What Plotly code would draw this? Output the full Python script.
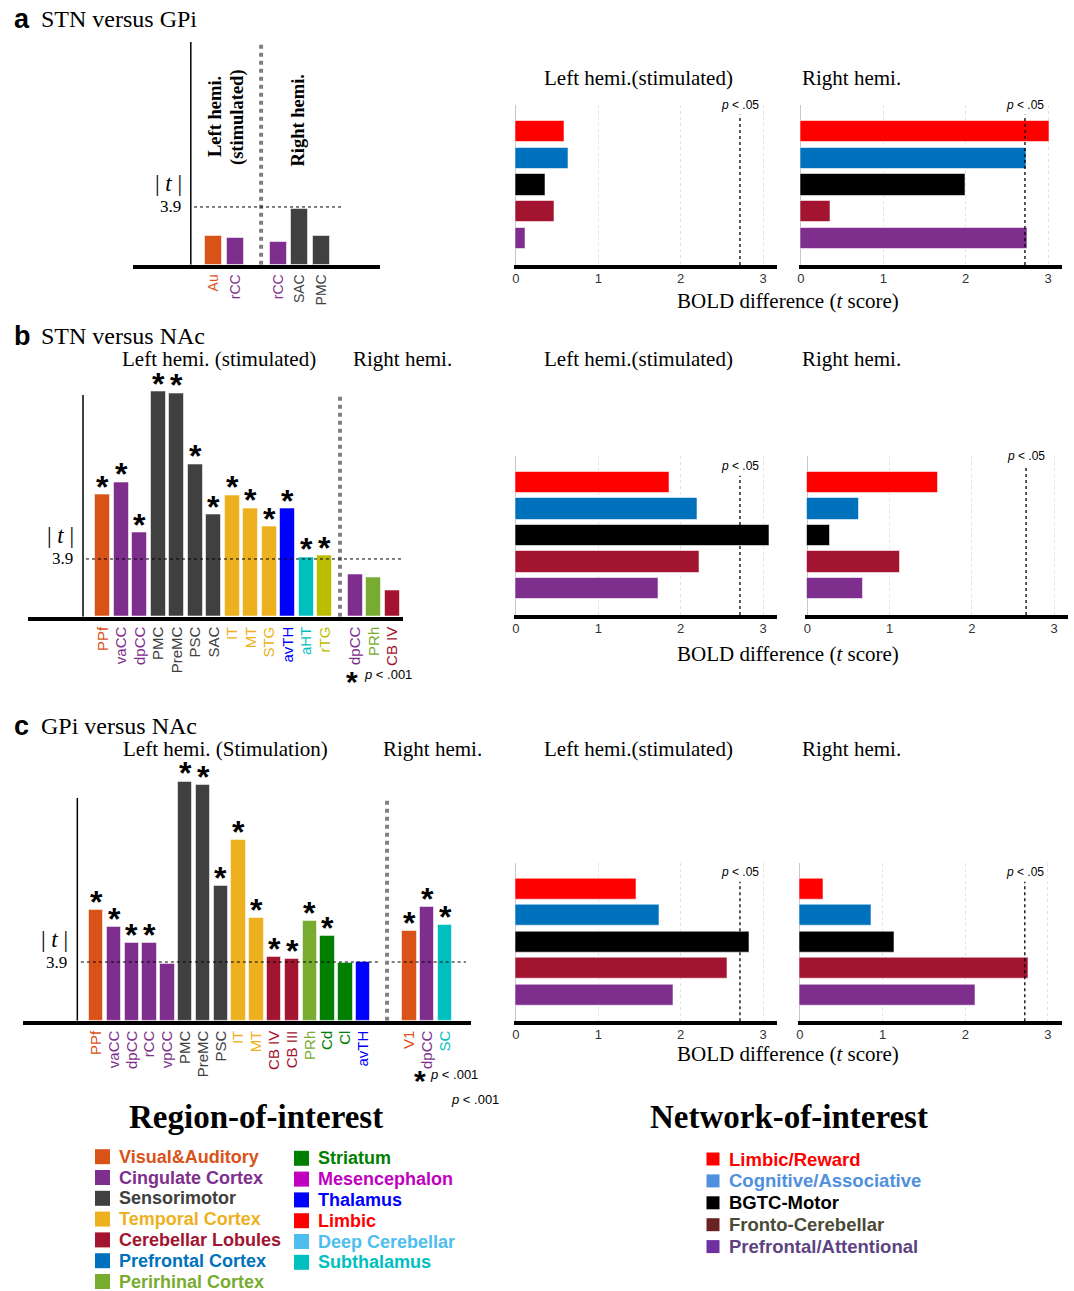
import plotly.graph_objects as go

W, H = 1074, 1291
SERIF = "Liberation Serif, Times New Roman, serif"
SANS = "Liberation Sans, Arial, sans-serif"

# ---------------- data ----------------
ROI_NAMES = ["Visual&Auditory", "Cingulate Cortex", "Sensorimotor", "Temporal Cortex",
             "Cerebellar Lobules", "Prefrontal Cortex", "Perirhinal Cortex",
             "Striatum", "Mesencephalon", "Thalamus", "Limbic", "Deep Cerebellar", "Subthalamus"]

# panel a : STN versus GPi
A_L_LABELS = ["Au", "rCC"]
A_L_GROUPS = ["Visual&Auditory", "Cingulate Cortex"]
A_L_T = [1.92, 1.80]
A_L_SIG = [0, 0]
A_R_LABELS = ["rCC", "SAC", "PMC"]
A_R_GROUPS = ["Cingulate Cortex", "Sensorimotor", "Sensorimotor"]
A_R_T = [1.51, 3.76, 1.96]
A_R_SIG = [0, 0, 0]

# panel b : STN versus NAc
B_L_LABELS = ["PPf", "vaCC", "dpCC", "PMC", "PreMC", "PSC", "SAC", "IT", "MT", "STG", "avTH", "aHT", "rTG"]
B_L_GROUPS = ["Visual&Auditory", "Cingulate Cortex", "Cingulate Cortex", "Sensorimotor", "Sensorimotor",
              "Sensorimotor", "Sensorimotor", "Temporal Cortex", "Temporal Cortex", "Temporal Cortex",
              "Thalamus", "Subthalamus", "Other"]
B_L_T = [8.24, 9.08, 5.66, 15.2, 15.1, 10.3, 6.89, 8.2, 7.32, 6.08, 7.28, 4.01, 4.12]
B_L_SIG = [1, 1, 1, 1, 1, 1, 1, 1, 1, 1, 1, 1, 1]
B_R_LABELS = ["dpCC", "PRh", "CB IV"]
B_R_GROUPS = ["Cingulate Cortex", "Perirhinal Cortex", "Cerebellar Lobules"]
B_R_T = [2.82, 2.66, 1.74]
B_R_SIG = [0, 0, 0]

# panel c : GPi versus NAc
C_L_LABELS = ["PPf", "vaCC", "dpCC", "rCC", "vpCC", "PMC", "PreMC", "PSC", "IT", "MT",
              "CB IV", "CB III", "PRh", "Cd", "Cl", "avTH"]
C_L_GROUPS = ["Visual&Auditory", "Cingulate Cortex", "Cingulate Cortex", "Cingulate Cortex",
              "Cingulate Cortex", "Sensorimotor", "Sensorimotor", "Sensorimotor", "Temporal Cortex",
              "Temporal Cortex", "Cerebellar Lobules", "Cerebellar Lobules", "Perirhinal Cortex",
              "Striatum", "Striatum", "Thalamus"]
C_L_T = [7.34, 6.21, 5.18, 5.16, 3.75, 15.9, 15.64, 8.93, 12.03, 6.84, 4.21, 4.12, 6.62, 5.61, 3.83, 3.92]
C_L_SIG = [1, 1, 1, 1, 0, 1, 1, 1, 1, 1, 1, 1, 1, 1, 0, 0]
C_R_LABELS = ["V1", "dpCC", "SC"]
C_R_GROUPS = ["Visual&Auditory", "Cingulate Cortex", "Subthalamus"]
C_R_T = [5.98, 7.57, 6.36]
C_R_SIG = [1, 1, 1]

T_THRESHOLD = 3.9

NET_NAMES = ["Limbic/Reward", "Cognitive/Associative", "BGTC-Motor", "Fronto-Cerebellar", "Prefrontal/Attentional"]
A_NET_L = [0.59, 0.64, 0.36, 0.47, 0.12]
A_NET_R = [3.02, 2.74, 2.00, 0.36, 2.75]
B_NET_L = [1.86, 2.20, 3.08, 2.23, 1.73]
B_NET_R = [1.59, 0.63, 0.28, 1.13, 0.67]
C_NET_L = [1.46, 1.74, 2.84, 2.57, 1.91]
C_NET_R = [0.28, 0.87, 1.14, 2.76, 2.12]
P05 = {"a": (2.72, 2.72), "b": (2.72, 2.66), "c": (2.72, 2.72)}
NET_TICKS = [0, 1, 2, 3]

# ---------------- styles ----------------
ROI_COLORS = {
    "Visual&Auditory": "#D95319", "Cingulate Cortex": "#7E2F8E", "Sensorimotor": "#404040",
    "Temporal Cortex": "#EDB120", "Cerebellar Lobules": "#A2142F", "Prefrontal Cortex": "#0072BD",
    "Perirhinal Cortex": "#77AC30", "Striatum": "#008000", "Mesencephalon": "#BF00BF",
    "Thalamus": "#0000FF", "Limbic": "#FF0000", "Deep Cerebellar": "#4DBEEE",
    "Subthalamus": "#00BFBF", "Other": "#BDBD00",
}
NET_BAR_COLORS = ["#FF0000", "#0072BD", "#000000", "#A2142F", "#7E2F8E"]
NET_SQ_COLORS = ["#FF0000", "#5090DC", "#000000", "#6B2222", "#7030A0"]
NET_TXT_COLORS = ["#FF0000", "#5090DC", "#000000", "#4A4A36", "#5E4382"]


def px_x(a):
    return a / W


def px_y(a):
    return 1 - a / H


fig = go.Figure()
layout_axes = {}
shapes = []
annotations = []


def ann(text, x, y, size, family=SERIF, color="black", xanchor="center", yanchor="middle",
        angle=0, **kw):
    d = dict(text=text, x=px_x(x), y=px_y(y), xref="paper", yref="paper", showarrow=False,
             font=dict(size=size, family=family, color=color), xanchor=xanchor, yanchor=yanchor,
             textangle=angle)
    d.update(kw)
    annotations.append(d)


# ---------------- ROI bar panels ----------------
BAR_PANELS = [
    dict(key="a", n=1, x_px=(133, 380), slot0=213.8, slot=21.5, base=264.7, unit=14.8, gap=1.0,
         axis_slot=-1.07, sep_slot=2.2, axis_top=15.05, sep_top=15.05, thr=[(-0.92, 5.95)],
         ytop=15.05, tick=14,
         L=(A_L_LABELS, A_L_GROUPS, A_L_T, A_L_SIG), R=(A_R_LABELS, A_R_GROUPS, A_R_T, A_R_SIG)),
    dict(key="b", n=2, x_px=(28, 403), slot0=102.8, slot=18.5, base=616.7, unit=14.8, gap=0.64,
         axis_slot=-1.07, sep_slot=12.82, axis_top=14.98, sep_top=15.1, thr=[(-0.91, 16.2)],
         ytop=15.35, tick=15,
         L=(B_L_LABELS, B_L_GROUPS, B_L_T, B_L_SIG), R=(B_R_LABELS, B_R_GROUPS, B_R_T, B_R_SIG)),
    dict(key="c", n=3, x_px=(23, 470.7), slot0=96.2, slot=17.8, base=1020.7, unit=15.05, gap=1.6,
         axis_slot=-1.06, sep_slot=16.34, axis_top=14.8, sep_top=14.88,
         thr=[(-0.86, 15.83), (16.6, 20.77)], ytop=16.2, tick=15,
         L=(C_L_LABELS, C_L_GROUPS, C_L_T, C_L_SIG), R=(C_R_LABELS, C_R_GROUPS, C_R_T, C_R_SIG)),
]

for p in BAR_PANELS:
    n = p["n"]
    xa, ya = f"x{n}", f"y{n}"
    Ll, Lg, Lt, Ls = p["L"]
    Rl, Rg, Rt, Rs = p["R"]
    pos = list(range(len(Ll))) + [len(Ll) + p["gap"] + j for j in range(len(Rl))]
    labels = list(Ll) + list(Rl)
    groups = list(Lg) + list(Rg)
    vals = list(Lt) + list(Rt)
    sig = list(Ls) + list(Rs)
    colors = [ROI_COLORS[g] for g in groups]
    fig.add_trace(go.Bar(x=pos, y=vals, width=0.8, marker=dict(color=colors,
                         line=dict(color="rgba(255,255,255,0.55)", width=1)),
                         xaxis=xa, yaxis=ya, showlegend=False))
    for x, v, s in zip(pos, vals, sig):
        if s:
            annotations.append(dict(text="<b>*</b>", x=x, y=v, xref=xa, yref=ya,
                                    showarrow=False, xanchor="center", yanchor="bottom",
                                    yshift=-12, font=dict(size=32, family=SANS, color="black")))
    x0, x1 = p["x_px"]
    xr = [(x0 - p["slot0"]) / p["slot"], (x1 - p["slot0"]) / p["slot"]]
    top_px = p["base"] - p["ytop"] * p["unit"]
    ticktext = [f"<span style='color:{c}'>{l}</span>" for l, c in zip(labels, colors)]
    suffix = "" if n == 1 else str(n)
    layout_axes["xaxis" + suffix] = dict(domain=[px_x(x0), px_x(x1)], range=xr, anchor=ya,
                                         tickvals=pos, ticktext=ticktext, tickangle=-90,
                                         ticks="", showgrid=False, zeroline=False, showline=True,
                                         linecolor="black", linewidth=4,
                                         tickfont=dict(size=p["tick"], family=SANS))
    layout_axes["yaxis" + suffix] = dict(domain=[px_y(p["base"]), px_y(top_px)],
                                         range=[0, p["ytop"]], anchor=xa, visible=False)
    # y axis line
    shapes.append(dict(type="line", xref=xa, yref=ya, x0=p["axis_slot"], x1=p["axis_slot"],
                       y0=0, y1=p["axis_top"], line=dict(color="black", width=1.5)))
    # hemisphere separator
    shapes.append(dict(type="line", xref=xa, yref=ya, x0=p["sep_slot"], x1=p["sep_slot"],
                       y0=0, y1=p["sep_top"], line=dict(color="#808080", width=4, dash="dot")))
    # threshold
    for a, b in p["thr"]:
        shapes.append(dict(type="line", xref=xa, yref=ya, x0=a, x1=b, y0=T_THRESHOLD,
                           y1=T_THRESHOLD, line=dict(color="black", width=1, dash="dot")))
    annotations.append(dict(text="3.9", x=p["axis_slot"], y=T_THRESHOLD, xref=xa, yref=ya,
                            showarrow=False, xanchor="right", yanchor="middle", xshift=-8,
                            font=dict(size=17, family=SERIF, color="black")))
    annotations.append(dict(text="| <i>t</i> |", x=p["axis_slot"], y=T_THRESHOLD, xref=xa,
                            yref=ya, showarrow=False, xanchor="right", yanchor="middle",
                            xshift=-7, yshift=23, font=dict(size=23, family=SERIF, color="black")))

# ---------------- network bar panels ----------------
NET_PANELS = [
    dict(key="a", n=(4, 5), y_px=(105, 265), xL=(513.5, 777), xR=(798.5, 1062),
         ptop=(4.63, 4.63), vals=(A_NET_L, A_NET_R), title_y=78, xlab_y=301),
    dict(key="b", n=(6, 7), y_px=(456, 615), xL=(513.5, 777), xR=(805, 1068),
         ptop=(4.25, 4.63), vals=(B_NET_L, B_NET_R), title_y=359, xlab_y=654),
    dict(key="c", n=(8, 9), y_px=(862.7, 1021.3), xL=(513.5, 777), xR=(797.5, 1062),
         ptop=(4.28, 4.28), vals=(C_NET_L, C_NET_R), title_y=749, xlab_y=1054),
]
ypos = list(range(len(NET_NAMES) - 1, -1, -1))
for p in NET_PANELS:
    for side in range(2):
        n = p["n"][side]
        xa, ya = f"x{n}", f"y{n}"
        xd = p["xL"] if side == 0 else p["xR"]
        vals = p["vals"][side]
        fig.add_trace(go.Bar(x=vals, y=ypos, orientation="h", width=0.8,
                             marker=dict(color=NET_BAR_COLORS,
                                         line=dict(color="rgba(255,255,255,0.55)", width=1)),
                             xaxis=xa, yaxis=ya, showlegend=False))
        layout_axes[f"xaxis{n}"] = dict(domain=[px_x(xd[0]), px_x(xd[1])], range=[-0.03, 3.17],
                                        anchor=ya, tickvals=NET_TICKS, ticks="",
                                        showgrid=True, gridcolor="#e2e2e2", griddash="dot",
                                        gridwidth=1, zeroline=True, zerolinecolor="#c8c8c8",
                                        zerolinewidth=1, showline=True, linecolor="black",
                                        linewidth=4, ticklabelstandoff=-2,
                                        tickfont=dict(size=13, family=SANS, color="#333333"))
        layout_axes[f"yaxis{n}"] = dict(domain=[px_y(p["y_px"][1]), px_y(p["y_px"][0])],
                                        range=[-1, 5], anchor=xa, visible=False)
        pv = P05[p["key"]][side]
        shapes.append(dict(type="line", xref=xa, yref=ya, x0=pv, x1=pv, y0=-1,
                           y1=p["ptop"][side], line=dict(color="black", width=1.3, dash="dot")))
        annotations.append(dict(text="<i>p</i> < .05", x=pv, y=p["ptop"][side], xref=xa,
                                yref=ya, showarrow=False, xanchor="center", yanchor="bottom",
                                yshift=1, font=dict(size=12, family=SANS, color="black")))
    ann("Left hemi.(stimulated)", 542, p["title_y"], 21, xanchor="left")
    ann("Right hemi.", 800, p["title_y"], 21, xanchor="left")
    ann("BOLD difference (<i>t</i> score)", 788, p["xlab_y"], 21)

# ---------------- panel titles & texts ----------------
for letter, title, y in [("a", "STN versus GPi", 19), ("b", "STN versus NAc", 336),
                         ("c", "GPi versus NAc", 726)]:
    ann(f"<b>{letter}</b>", 12, y, 27, family=SANS, xanchor="left")
    ann(title, 39, y, 24, xanchor="left")

ann("<b>Left hemi.</b>", 215, 117, 18.5, angle=-90)
ann("<b>(stimulated)</b>", 237.5, 117.5, 18.5, angle=-90)
ann("<b>Right hemi.</b>", 297.5, 120, 18.5, angle=-90)

ann("Left hemi. (stimulated)", 219, 359, 21)
ann("Right hemi.", 402, 359, 21)
ann("Left hemi. (Stimulation)", 225, 749, 21)
ann("Right hemi.", 432, 749, 21)

ann("<b>*</b>", 352, 681, 30, family=SANS)
ann("<i>p</i> < .001", 362, 675, 13, family=SANS, xanchor="left")
ann("<b>*</b>", 420, 1080, 30, family=SANS)
ann("<i>p</i> < .001", 428, 1074, 13, family=SANS, xanchor="left")
ann("<i>p</i> < .001", 475, 1099, 13, family=SANS)

# ---------------- legends ----------------
ann("<b>Region-of-interest</b>", 256, 1117, 33)
ann("<b>Network-of-interest</b>", 789, 1117, 33)

col_split = 7
for i, name in enumerate(ROI_NAMES):
    col = 0 if i < col_split else 1
    row = i if col == 0 else i - col_split
    sx = 95 if col == 0 else 294
    y = (1156.7 if col == 0 else 1158.3) + row * 20.8
    c = ROI_COLORS[name]
    shapes.append(dict(type="rect", xref="paper", yref="paper", x0=px_x(sx), x1=px_x(sx + 15),
                       y0=px_y(y + 7.5), y1=px_y(y - 7.5), fillcolor=c, line=dict(width=0)))
    ann(f"<b>{name}</b>", sx + 22, y, 18, family=SANS, color=c, xanchor="left")

for i, name in enumerate(NET_NAMES):
    y = 1159 + i * 21.9
    shapes.append(dict(type="rect", xref="paper", yref="paper", x0=px_x(706.5), x1=px_x(719.5),
                       y0=px_y(y + 6.5), y1=px_y(y - 6.5), fillcolor=NET_SQ_COLORS[i],
                       line=dict(width=0)))
    ann(f"<b>{name}</b>", 726.5, y, 18.5, family=SANS, color=NET_TXT_COLORS[i], xanchor="left")

fig.update_layout(width=W, height=H, margin=dict(l=0, r=0, t=0, b=0), plot_bgcolor="white",
                  paper_bgcolor="white", showlegend=False, bargap=0, shapes=shapes,
                  annotations=annotations, **layout_axes)
fig.write_html("out.html", config={"displayModeBar": False},
               post_script="document.body.style.margin='0px';document.body.style.overflow='hidden';")
